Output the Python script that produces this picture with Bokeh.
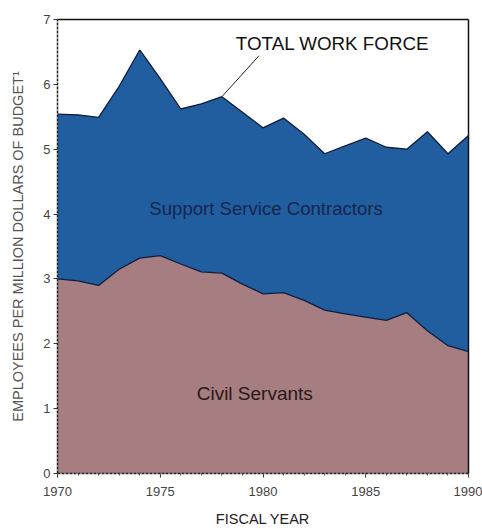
from bokeh.plotting import figure
from bokeh.models import Range1d, LinearAxis, FixedTicker, Label, Segment, ColumnDataSource
from bokeh.embed import file_html
from bokeh.resources import INLINE

# ---- data ----
years = list(range(1970, 1991))
total_work_force = [5.54, 5.53, 5.49, 5.97, 6.53, 6.09, 5.62, 5.70, 5.81, 5.57,
                    5.33, 5.48, 5.23, 4.93, 5.05, 5.17, 5.03, 5.00, 5.27, 4.93, 5.21]
civil_servants = [3.00, 2.97, 2.90, 3.15, 3.32, 3.36, 3.23, 3.11, 3.09, 2.92,
                  2.77, 2.79, 2.67, 2.52, 2.46, 2.41, 2.36, 2.48, 2.20, 1.97, 1.88]
x_ticks = [1970, 1975, 1980, 1985, 1990]
y_ticks = [0, 1, 2, 3, 4, 5, 6, 7]

BLUE = "#205EA0"
MAUVE = "#A67D80"
EDGE = "#0f1c3c"
FONT = "Liberation Sans"

src = ColumnDataSource(dict(year=years, total=total_work_force, civil=civil_servants,
                            zero=[0] * len(years)))

p = figure(width=482, height=529, output_backend="svg", toolbar_location=None,
           x_range=Range1d(1970, 1990), y_range=Range1d(0, 7),
           min_border_left=57, min_border_right=14, min_border_top=19, min_border_bottom=56)
p.outline_line_color = None
p.xgrid.visible = False
p.ygrid.visible = False
p.background_fill_color = "white"
p.border_fill_color = "white"

p.varea(x="year", y1="zero", y2="civil", source=src, fill_color=MAUVE)
p.varea(x="year", y1="civil", y2="total", source=src, fill_color=BLUE)
p.line(x="year", y="civil", source=src, line_color=EDGE, line_width=1.3)
p.line(x="year", y="total", source=src, line_color=EDGE, line_width=1.3)

# axes
xa = p.xaxis[0]
xa.ticker = FixedTicker(ticks=x_ticks, minor_ticks=years)
xa.axis_label = "FISCAL YEAR"
ya = p.yaxis[0]
ya.ticker = FixedTicker(ticks=y_ticks)
ya.axis_label = "EMPLOYEES PER MILLION DOLLARS OF BUDGET\u00b9"
for ax in (xa, ya):
    ax.axis_line_color = "#222222"
    ax.axis_line_dash = "3 1"
    ax.axis_line_width = 1.5
    ax.major_tick_line_color = "#333333"
    ax.minor_tick_line_color = "#555555"
    ax.major_tick_out = 4
    ax.major_tick_in = 0
    ax.minor_tick_out = 2
    ax.minor_tick_in = 0
    ax.major_label_text_font = FONT
    ax.major_label_text_font_size = "13px"
    ax.major_label_text_color = "#444444"
    ax.axis_label_text_font = FONT
    ax.axis_label_text_font_style = "normal"
ya.minor_tick_line_color = None
ya.major_label_standoff = 3
ya.axis_label_standoff = 14
ya.axis_label_text_font_size = "14.5px"
ya.axis_label_text_color = "#555555"
xa.major_label_standoff = 9
xa.axis_label_standoff = 12
xa.axis_label_text_font_size = "14.5px"
xa.axis_label_text_color = "#222222"

# solid top and right borders
for loc in ("above", "right"):
    ax = LinearAxis(ticker=FixedTicker(ticks=[]), major_label_text_font_size="0px",
                    axis_line_color="#111111", axis_line_width=1.5,
                    major_tick_line_color=None, minor_tick_line_color=None)
    p.add_layout(ax, loc)

# annotations (positions in data units)
label_total = ("TOTAL WORK FORCE", 1978.68, 6.63)
label_support = ("Support Service Contractors", 1980.15, 4.08)
label_civil = ("Civil Servants", 1979.6, 1.23)
leader_start_year = 1978
leader_end = (1979.8, 6.44)

p.add_layout(Label(x=label_total[1], y=label_total[2], text=label_total[0],
                   text_font=FONT, text_font_size="18.8px", text_color="#111111",
                   text_baseline="middle", text_align="left"))
p.add_layout(Label(x=label_support[1], y=label_support[2], text=label_support[0],
                   text_font=FONT, text_font_size="18.6px", text_color="#16264d",
                   text_baseline="middle", text_align="center"))
p.add_layout(Label(x=label_civil[1], y=label_civil[2], text=label_civil[0],
                   text_font=FONT, text_font_size="19px", text_color="#2a1818",
                   text_baseline="middle", text_align="center"))
i = years.index(leader_start_year)
p.add_glyph(ColumnDataSource(dict(x0=[years[i]], y0=[total_work_force[i]],
                                  x1=[leader_end[0]], y1=[leader_end[1]])),
            Segment(x0="x0", y0="y0", x1="x1", y1="y1", line_color="#222222", line_width=1))

open("out.html", "w").write(file_html(p, INLINE))
